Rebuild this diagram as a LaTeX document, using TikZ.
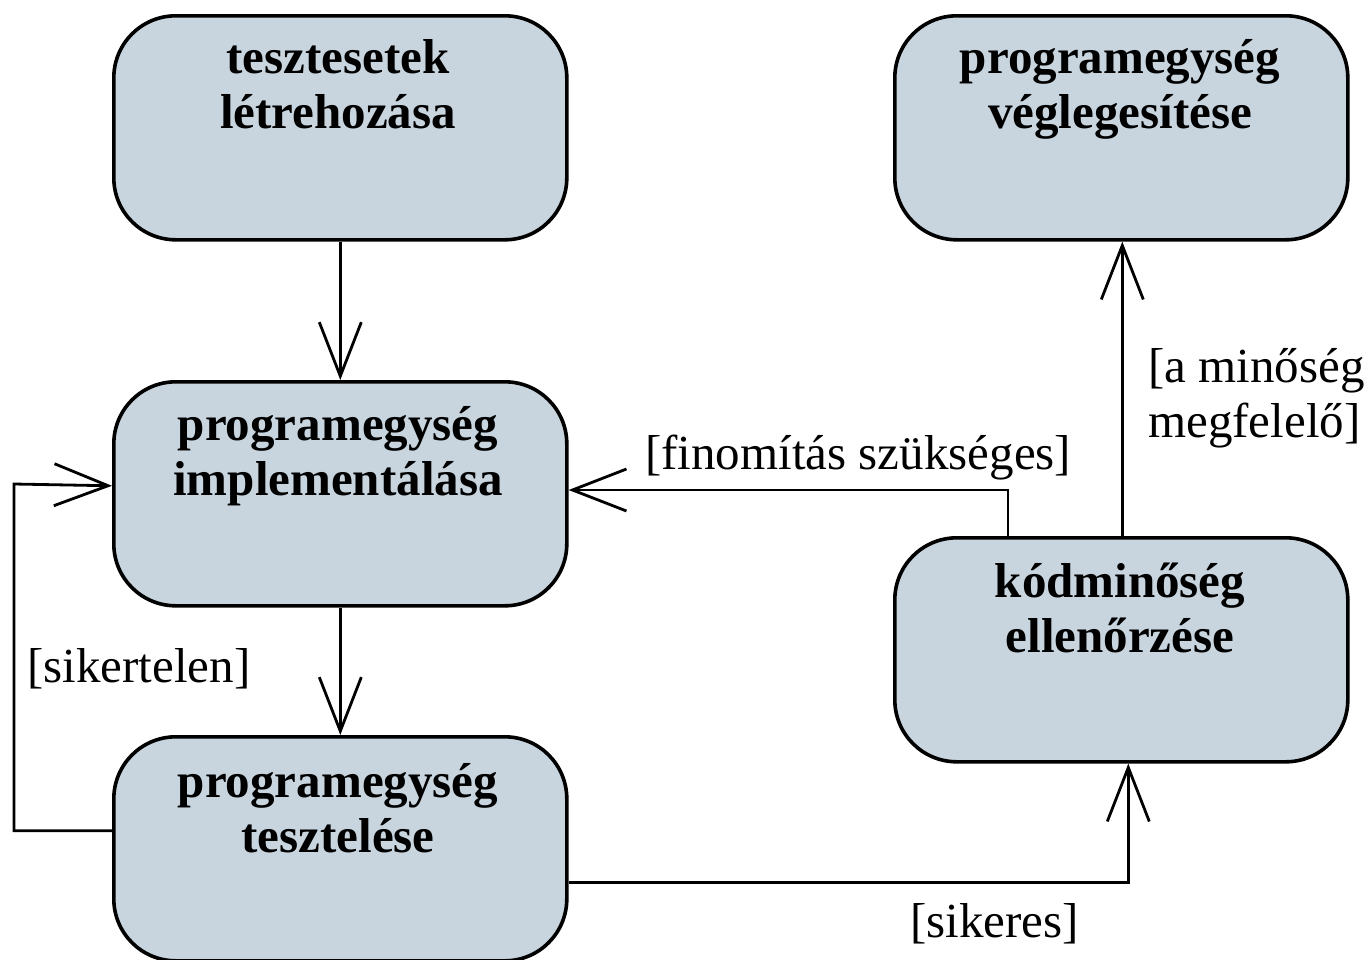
\documentclass[tikz,border=0pt]{standalone}
\usepackage{fontspec}
\setmainfont{Liberation Serif}
\usetikzlibrary{arrows.meta}
\definecolor{boxfill}{RGB}{200,213,222}
\begin{document}
\begin{tikzpicture}[x=1pt,y=-1pt,
  actbox/.style={draw=black, line width=3.6pt, fill=boxfill, rounded corners=62pt,
    minimum width=453pt, minimum height=224pt, inner sep=0pt, anchor=north west},
  title/.style={font=\fontsize{49}{55}\selectfont\bfseries, align=center, inner sep=0pt, anchor=base},
  guard/.style={font=\fontsize{49}{55}\selectfont, align=left, inner sep=0pt, anchor=base west},
  conn/.style={line width=2.8pt, -{Straight Barb[length=54pt,width=42pt]}}
]
\useasboundingbox (0,0) rectangle (1371,959);

\node[actbox] (b1) at (112,14) {};
\node[actbox] (b2) at (893,14) {};
\node[actbox] (b3) at (112,380) {};
\node[actbox] (b4) at (893,536) {};
\node[actbox] (b5) at (112,735) {};

\node[title] (t1) at (338,128) {tesztesetek\\létrehozása};
\node[title] (t2) at (1120,128) {programegység\\véglegesítése};
\node[title] (t3) at (338,495) {programegység\\implementálása};
\node[title] (t4) at (1120,652) {kódminőség\\ellenőrzése};
\node[title] (t5) at (338,852) {programegység\\tesztelése};

\coordinate (lx) at (14,484);
\coordinate (lstart) at ([yshift=18pt]b5.west);
\coordinate (lend) at ([yshift=8pt]b3.west);
\coordinate (fx) at (1008,490);
\coordinate (sstart) at ([yshift=-34pt]b5.east);
\coordinate (send) at ([xshift=7pt]b4.south);

\draw[conn] (b1.south) -- (b3.north);
\draw[conn] (b3.south) -- (b5.north);
\draw[conn] (lstart) -- (lstart -| lx) -- (lx) -- (lend);
\draw[conn] (fx |- b4.north) -- (fx) -- (fx -| b3.east);
\draw[conn] ([xshift=1pt]b4.north) -- ([xshift=1pt]b2.south);
\draw[conn] (sstart) -- (sstart -| send) -- (send);

\node[guard] (g1) at (645,469) {[finomítás szükséges]};
\node[guard] (g2) at (1148,437) {[a minőség\\megfelelő]};
\node[guard] (g3) at (27,682) {[sikertelen]};
\node[guard] (g4) at (910,937) {[sikeres]};
\end{tikzpicture}
\end{document}
